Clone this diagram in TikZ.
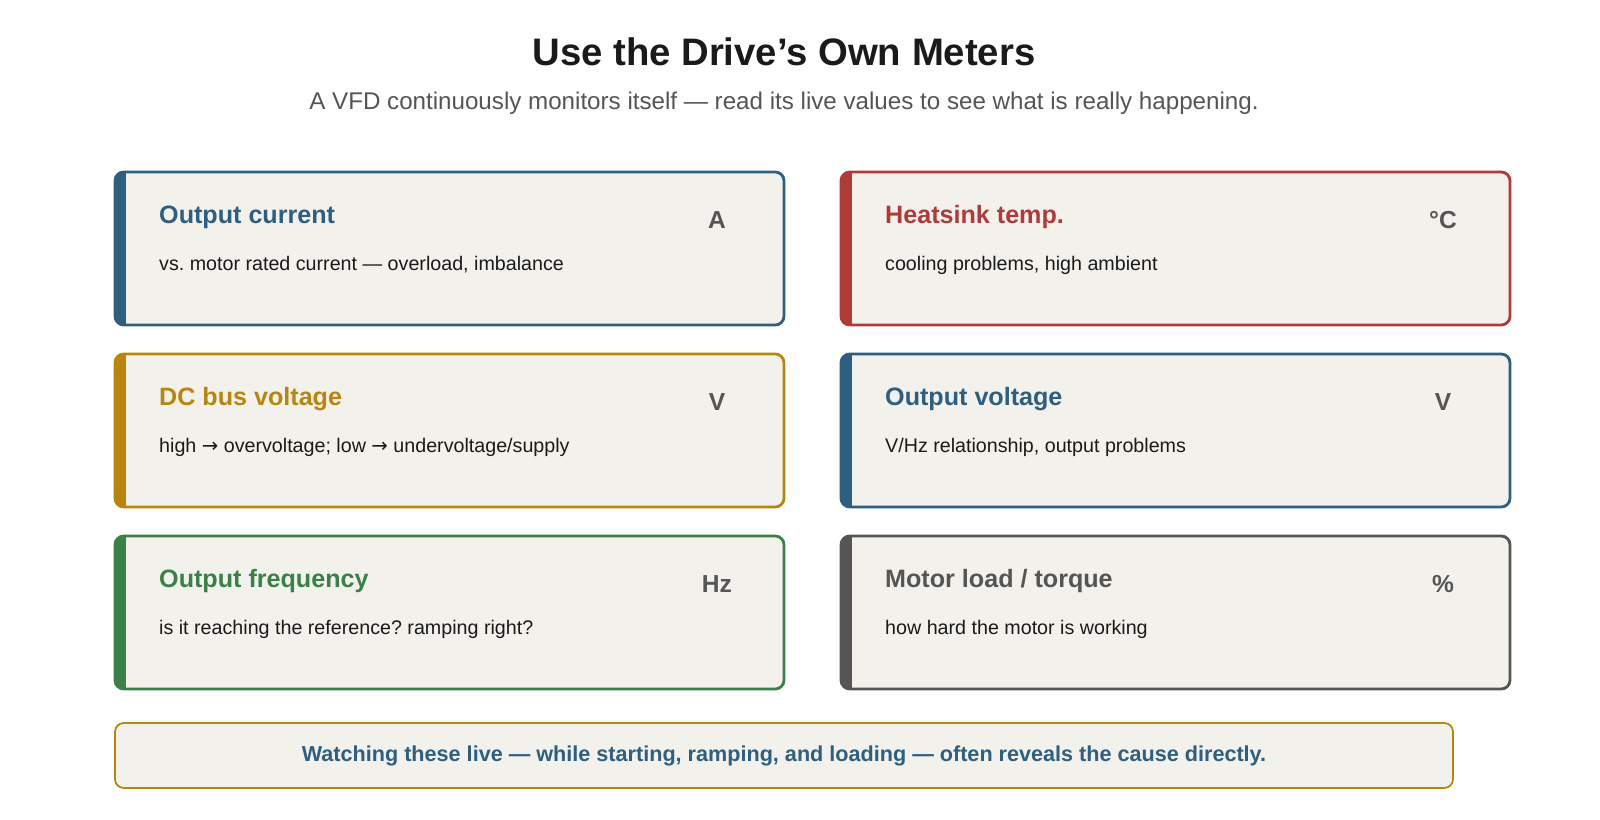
\documentclass[tikz,border=0pt]{standalone}
\usepackage{fontspec}
\setmainfont{Liberation Sans}
\newfontfamily\djv{DejaVu Sans}
\frenchspacing
\definecolor{cblue}{HTML}{2E5E80}
\definecolor{cred}{HTML}{B03A3A}
\definecolor{cgold}{HTML}{B8860B}
\definecolor{cgreen}{HTML}{3A8048}
\definecolor{cgrey}{HTML}{555555}
\definecolor{cfill}{HTML}{F3F1EC}
\definecolor{ctext}{HTML}{1A1A1A}
\tikzset{
 ttl/.style={anchor=west,font=\fontsize{14.3}{17}\selectfont\bfseries},
 unit/.style={font=\fontsize{14}{17}\selectfont\bfseries,text=cgrey},
 desc/.style={anchor=west,font=\fontsize{11.2}{13}\selectfont,text=ctext},
}
\newcommand\mycard[7]{% name, x, y, color, title, unit, desc
 \begin{scope}
  \clip[rounded corners=5pt] (#2,#3) rectangle ++(669,153);
  \fill[cfill] (#2,#3) rectangle ++(669,153);
  \fill[#4] (#2,#3) rectangle ++(11,153);
 \end{scope}
 \draw[#4,line width=1.6pt,rounded corners=5pt] (#2,#3) rectangle ++(669,153);
 \node[ttl,text=#4] (#1t) at (#2+38,#3+45) {#5};
 \node[unit] (#1u) at (#2+602,#3+48) {#6};
 \node[desc] (#1d) at (#2+38,#3+93) {#7};
}
\begin{document}
\begin{tikzpicture}[x=0.02cm,y=-0.02cm]
\fill[white] (0,0) rectangle (1600,820);
\node[font=\fontsize{21.8}{26}\selectfont\bfseries,text=ctext] (title) at (784,52) {Use the Drive's Own Meters};
\node[font=\fontsize{13.75}{16}\selectfont,text=cgrey] (sub) at (784,103) {A VFD continuously monitors itself — read its live values to see what is really happening.};
\mycard{a}{115}{172}{cblue}{Output current}{A}{vs. motor rated current — overload, imbalance}
\mycard{b}{841}{172}{cred}{Heatsink temp.}{°C}{cooling problems, high ambient}
\mycard{c}{115}{354}{cgold}{DC bus voltage}{V}{high {\djv→} overvoltage; low {\djv→} undervoltage/supply}
\mycard{d}{841}{354}{cblue}{Output voltage}{V}{V/Hz relationship, output problems}
\mycard{e}{115}{536}{cgreen}{Output frequency}{Hz}{is it reaching the reference? ramping right?}
\mycard{f}{841}{536}{cgrey}{Motor load / torque}{\%}{how hard the motor is working}
\draw[cgold,line width=1pt,fill=cfill,rounded corners=5pt] (115,723) rectangle (1453,788);
\node[font=\fontsize{12.3}{14}\selectfont\bfseries,text=cblue] (foot) at (784,756) {Watching these live — while starting, ramping, and loading — often reveals the cause directly.};
\pgfresetboundingbox
\useasboundingbox (0,0) rectangle (1600,820);
\end{tikzpicture}
\end{document}
